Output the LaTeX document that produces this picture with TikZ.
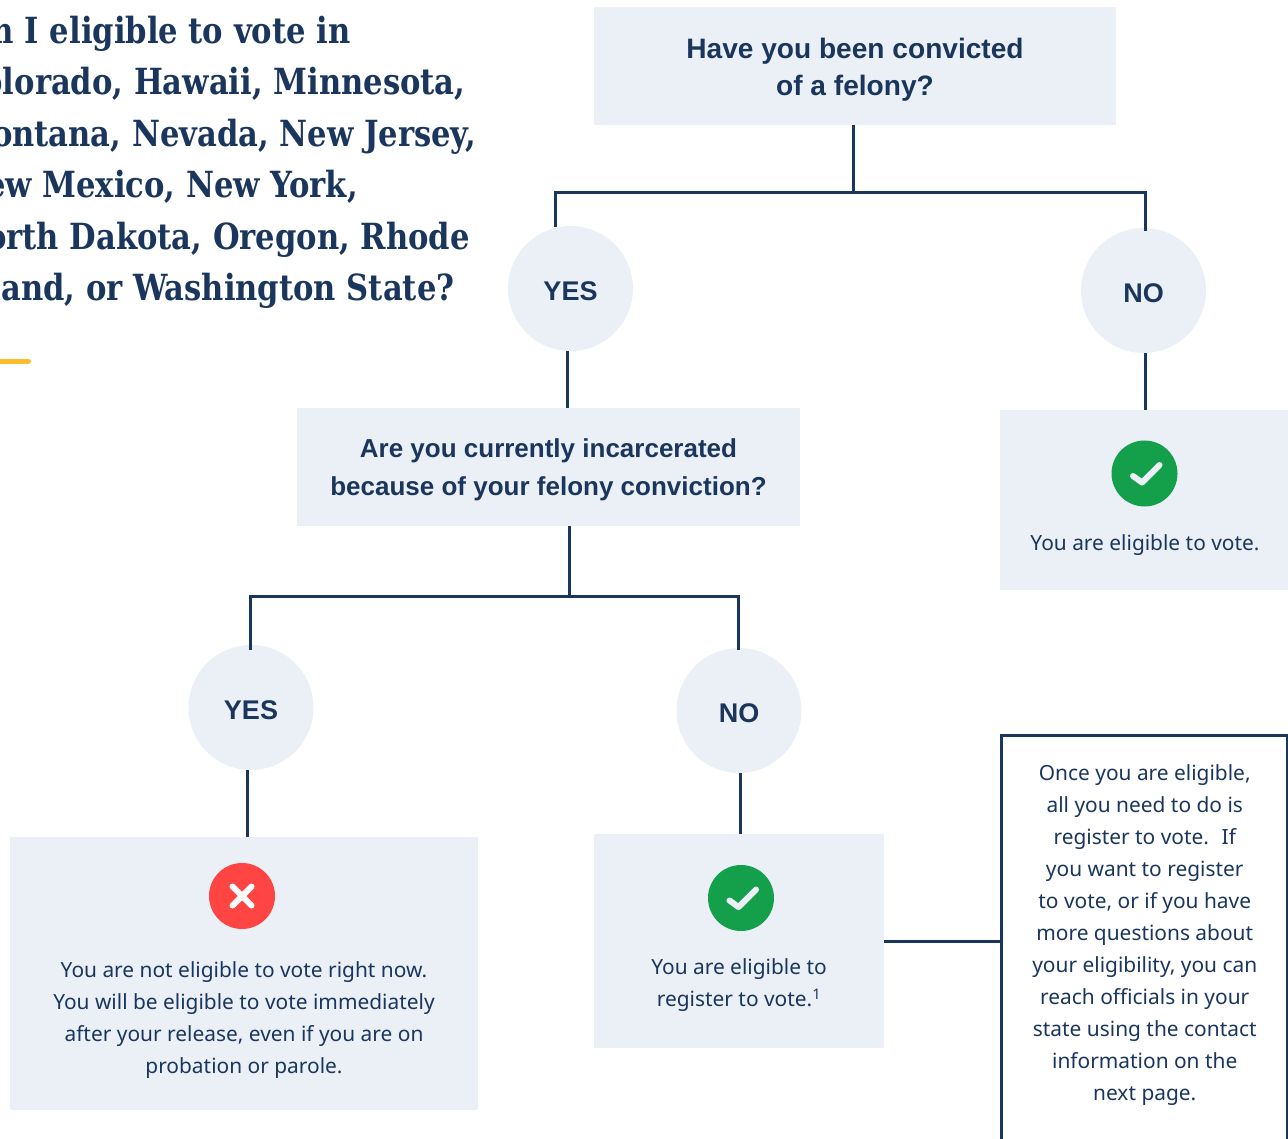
\documentclass[tikz,border=0pt]{standalone}
\usepackage{fontspec}
\setmainfont{Noto Sans}
\newfontfamily\headfont[FakeStretch=0.945]{DejaVu Serif Condensed}
\newfontfamily\boldsans{Liberation Sans}
\usetikzlibrary{positioning}
\definecolor{navy}{HTML}{1B365D}
\definecolor{pale}{HTML}{EBF0F7}
\definecolor{okgreen}{HTML}{149F4B}
\definecolor{nored}{HTML}{FF4444}
\definecolor{amber}{HTML}{FFBC2C}
\newcommand{\lifted}[1]{\rule{0pt}{#1}}
\tikzset{
    question/.style={fill=pale,text=navy,align=center,inner sep=0pt,outer sep=0pt,minimum height=118pt},
    answer/.style={circle,fill=pale,text=navy,font=\boldsans\bfseries\fontsize{27}{32}\selectfont,inner sep=0pt,outer sep=0pt,minimum size=125pt},
    result/.style={fill=pale,inner sep=0pt,outer sep=0pt},
    bodytext/.style={text=navy,font=\fontsize{20.9}{32}\selectfont,align=center,inner sep=0pt,outer sep=0pt},
    badge/.style={circle,inner sep=0pt,outer sep=0pt,minimum size=66pt},
    link/.style={draw=navy,line width=3pt},
    tickmark/.style={draw=pale,line width=6pt,line cap=round,line join=round},
    crossmark/.style={draw=white,line width=6pt,line cap=round}
}

\begin{document}
\begin{tikzpicture}[x=1pt,y=-1pt]

                \useasboundingbox (0,0) rectangle (1288,1139);

                \node[text=navy,font=\headfont\bfseries\fontsize{36}{51.5}\selectfont,align=left,anchor=north west,inner sep=0pt] (title) at (-42,15.5) {Am I eligible to vote in\\Colorado, Hawaii, Minnesota,\\Montana, Nevada, New Jersey,\\New Mexico, New York,\\North Dakota, Oregon, Rhode\\Island, or Washington State?};

                \draw[amber,line width=5pt,line cap=round] (-20,361.5) -- (28.5,361.5);

                \node[question,font=\boldsans\bfseries\fontsize{28.1}{37.5}\selectfont,minimum width=522pt] (q1) at (855,66) {\lifted{28pt}Have you been convicted\\of a felony?};

                \node[answer] (yes1) [below=101pt of q1,xshift=-284.5pt] {\lifted{24.5pt}YES};
                \node[answer] (no1) [below=103pt of q1,xshift=288.5pt] {\lifted{24.5pt}NO};

                \node[question,font=\boldsans\bfseries\fontsize{26}{38}\selectfont,minimum width=503pt] (q2) [below=57pt of yes1,xshift=-22pt] {\lifted{23.7pt}Are you currently incarcerated\\because of your felony conviction?};
                \node[result,minimum width=290pt,minimum height=180pt] (ok1) [below=57pt of no1,xshift=1.5pt] {};

                \node[answer] (yes2) [below=119pt of q2,xshift=-297.5pt] {\lifted{24.5pt}YES};
                \node[answer] (no2) [below=122pt of q2,xshift=190.5pt] {\lifted{24.5pt}NO};

                \node[result,minimum width=468pt,minimum height=273pt] (no3) [below=67pt of yes2,xshift=-7pt] {};
                \node[result,minimum width=290pt,minimum height=214pt] (ok2) [below=61pt of no2] {};

                \node[draw=navy,line width=3pt,inner sep=0pt,outer sep=0pt,minimum width=286.5pt,minimum height=430pt] (info) [right=117pt of ok2.north east,anchor=north west,yshift=99pt] {};

                \node[badge,fill=okgreen] (tick1) [below=30.5pt of ok1.north,xshift=-0.5pt] {};
                \node[badge,fill=okgreen] (tick2) [below=31pt of ok2.north,xshift=2pt] {};
                \node[badge,fill=nored] (cross) [below=26pt of no3.north,xshift=-2pt] {};

                \node[bodytext] (ok1text) [below=28pt of tick1,xshift=0.5pt] {You are eligible to vote.};
                \node[bodytext] (ok2text) [below=28pt of tick2,xshift=-2pt] {You are eligible to\\register to vote.\textsuperscript{1}};
                \node[bodytext] (no3text) [below=33pt of cross,xshift=2pt] {You are not eligible to vote right now.\\You will be eligible to vote immediately\\after your release, even if you are on\\probation or parole.};
                \node[bodytext] (infotext) [below=30pt of info.north,xshift=0.5pt] {Once you are eligible,\\all you need to do is\\register to vote.~ If\\you want to register\\to vote, or if you have\\more questions about\\your eligibility, you can\\reach officials in your\\state using the contact\\information on the\\next page.};

                \foreach \icon in {tick1,tick2}
                    {
                    \draw[tickmark] ([shift={(-11.5,2.5)}]\icon.center) -- ++(9,6.5) -- ++(17.5,-17.5);
                    }

                \draw[crossmark] ([shift={(-9.5,-9.5)}]cross.center) -- ++(19,19);
                \draw[crossmark] ([shift={(-9.5,9.5)}]cross.center) -- ++(19,-19);

                \coordinate (fork1) at ([xshift=-1.5pt,yshift=-68pt]q1.south);
                \coordinate (fork2) at ([xshift=21pt,yshift=-70pt]q2.south);

                \draw[link] ([xshift=-1.5pt]q1.south) -- (fork1);
                \draw[link] ([xshift=-15.5pt,yshift=-1pt]yes1.north) |- (fork1) -| ([xshift=1.5pt,yshift=-3pt]no1.north);

                \draw[link] ([xshift=21pt]q2.south) -- (fork2);
                \draw[link] ([xshift=-1pt,yshift=-5pt]yes2.north) |- (fork2) -| ([xshift=-1pt,yshift=-2pt]no2.north);

                \foreach \from/\to/\shift in {yes1/q2/-3.5pt, no1/ok1/2pt, yes2/no3/-4pt, no2/ok2/1pt}
                    {
                    \draw[link] ([xshift=\shift]\from.south) -- ([xshift=\shift]\from.south |- \to.north);
                    }

                \draw[link] ([yshift=-0.5pt]ok2.east) -- ([yshift=-0.5pt]ok2.east -| info.west);

            \end{tikzpicture}
\end{document}
